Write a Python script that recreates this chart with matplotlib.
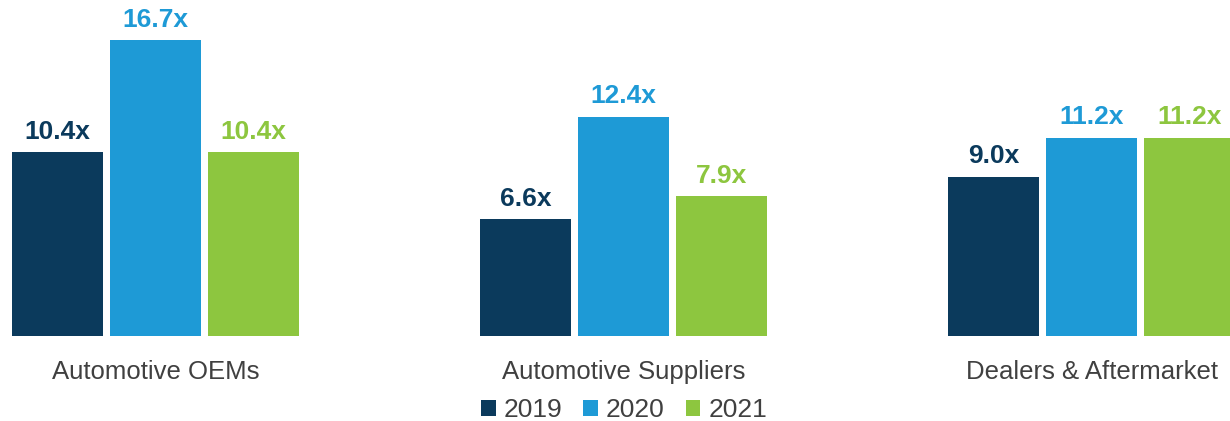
import numpy as np
import matplotlib.pyplot as plt
from matplotlib.patches import Patch

plt.rcParams['font.family'] = ['Liberation Sans', 'DejaVu Sans']

categories = ['Automotive OEMs', 'Automotive Suppliers', 'Dealers & Aftermarket']
years = ['2019', '2020', '2021']
v2019 = [10.4, 6.6, 9.0]
v2020 = [16.7, 12.4, 11.2]
v2021 = [10.4, 7.9, 11.2]
colors = ['#0B3A5C', '#1E9AD6', '#8DC63F']

fig = plt.figure(figsize=(12.3, 4.21), dpi=100)
ax = fig.add_axes([0, 85 / 421, 1, 336 / 421])

x = np.arange(len(categories))
pitch = 98 / 468
width = 91 / 468

for k, (vals, col) in enumerate(zip([v2019, v2020, v2021], colors)):
    pos = x + (k - 1) * pitch
    ax.bar(pos, vals, width=width, color=col, edgecolor='none')
    for p, v in zip(pos, vals):
        ax.annotate(f'{v:.1f}x', (p, v), xytext=(0, 6), textcoords='offset points',
                    ha='center', va='bottom', fontsize=19, fontweight='bold', color=col)

ax.set_xlim(-155.5 / 468, (1230 - 155.5) / 468)
ax.set_ylim(0, 336 / 17.7)
ax.set_xticks(x)
ax.set_xticklabels(categories, fontsize=18.5, color='#404040')
ax.tick_params(axis='x', length=0, pad=17)
ax.set_yticks([])
for s in ax.spines.values():
    s.set_visible(False)

handles = [Patch(facecolor=c, edgecolor='none') for c in colors]
fig.legend(handles, years, loc='center', bbox_to_anchor=(624 / 1230, 11 / 421),
           ncol=3, frameon=False, fontsize=19, labelcolor='#404040',
           handlelength=0.55, handleheight=0.55, handletextpad=0.3,
           columnspacing=0.8, borderaxespad=0, borderpad=0)

fig.savefig('out.png', dpi=100)
